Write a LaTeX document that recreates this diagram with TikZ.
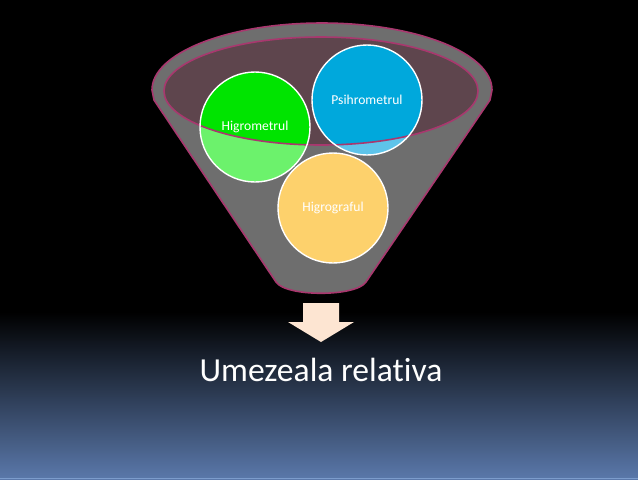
\documentclass[tikz,border=0pt]{standalone}
\usepackage{fontspec}
\setmainfont{Carlito}[Ligatures=NoCommon]
\usepackage{tikz}
\definecolor{slateblue}{HTML}{5A78AA}
\definecolor{edgeblue}{HTML}{7C9CCC}
\definecolor{funnelgray}{HTML}{6E6E6E}
\definecolor{rimred}{HTML}{A8386E}
\definecolor{innerwine}{HTML}{5E454D}
\definecolor{greenbr}{HTML}{00E400}
\definecolor{greenlt}{HTML}{6CF26C}
\definecolor{bluebr}{HTML}{00A8DC}
\definecolor{bluelt}{HTML}{5EC4EA}
\definecolor{sand}{HTML}{FDD16C}
\definecolor{peach}{HTML}{FDE5D2}

\begin{document}
\begin{tikzpicture}[x=0.5pt,y=-0.5pt,
  bubble/.style={circle,draw=white,line width=0.7pt,minimum size=55pt,
    inner sep=0pt,text=white,font=\fontsize{6.8}{8}\selectfont},
  rim/.style={draw=rimred,line width=0.8pt}]
\useasboundingbox (0,0) rectangle (638,479);
% background
\fill[black] (0,0) rectangle (638,312);
\shade[top color=black,bottom color=slateblue] (0,312) rectangle (638,479);
\fill[edgeblue] (0,477.5) rectangle (638,479);
% funnel
\filldraw[rim,fill=funnelgray] (152,90) arc[start angle=180,end angle=360,x radius=170,y radius=67]
  -- (490,100) -- (366,282) .. controls (356,297) and (286,297) .. (276,282)
  -- (154,100) -- cycle;
\fill[innerwine] (321,91) ellipse[x radius=157,y radius=54];
% circle centres
\coordinate (hgm) at (255,127);
\coordinate (psi) at (367,100);
\coordinate (hgf) at (333,208);
\fill[greenlt] (hgm) circle[radius=55];
\fill[bluelt] (psi) circle[radius=55];
\fill[sand] (hgf) circle[radius=55];
\begin{scope}
  \clip (321,91) ellipse[x radius=157,y radius=54];
  \fill[greenbr] (hgm) circle[radius=55];
  \fill[bluebr] (psi) circle[radius=55];
\end{scope}
\draw[rim] (321,91) ellipse[x radius=157,y radius=54];
\node[bubble] (higrometru) at (hgm) {Higrometrul};
\node[bubble] (psihrometru) at (psi) {Psihrometrul};
\node[bubble] (higrograf) at (hgf) {Higrograful};
% arrow
\fill[peach] (303,303) -- (339,303) -- (339,322) -- (354,322) -- (321,342)
  -- (288,322) -- (303,322) -- cycle;
\node[text=white,font=\fontsize{16.8}{20}\selectfont,anchor=base] (umez) at (321,381) {Umezeala relativa};
\end{tikzpicture}
\end{document}
